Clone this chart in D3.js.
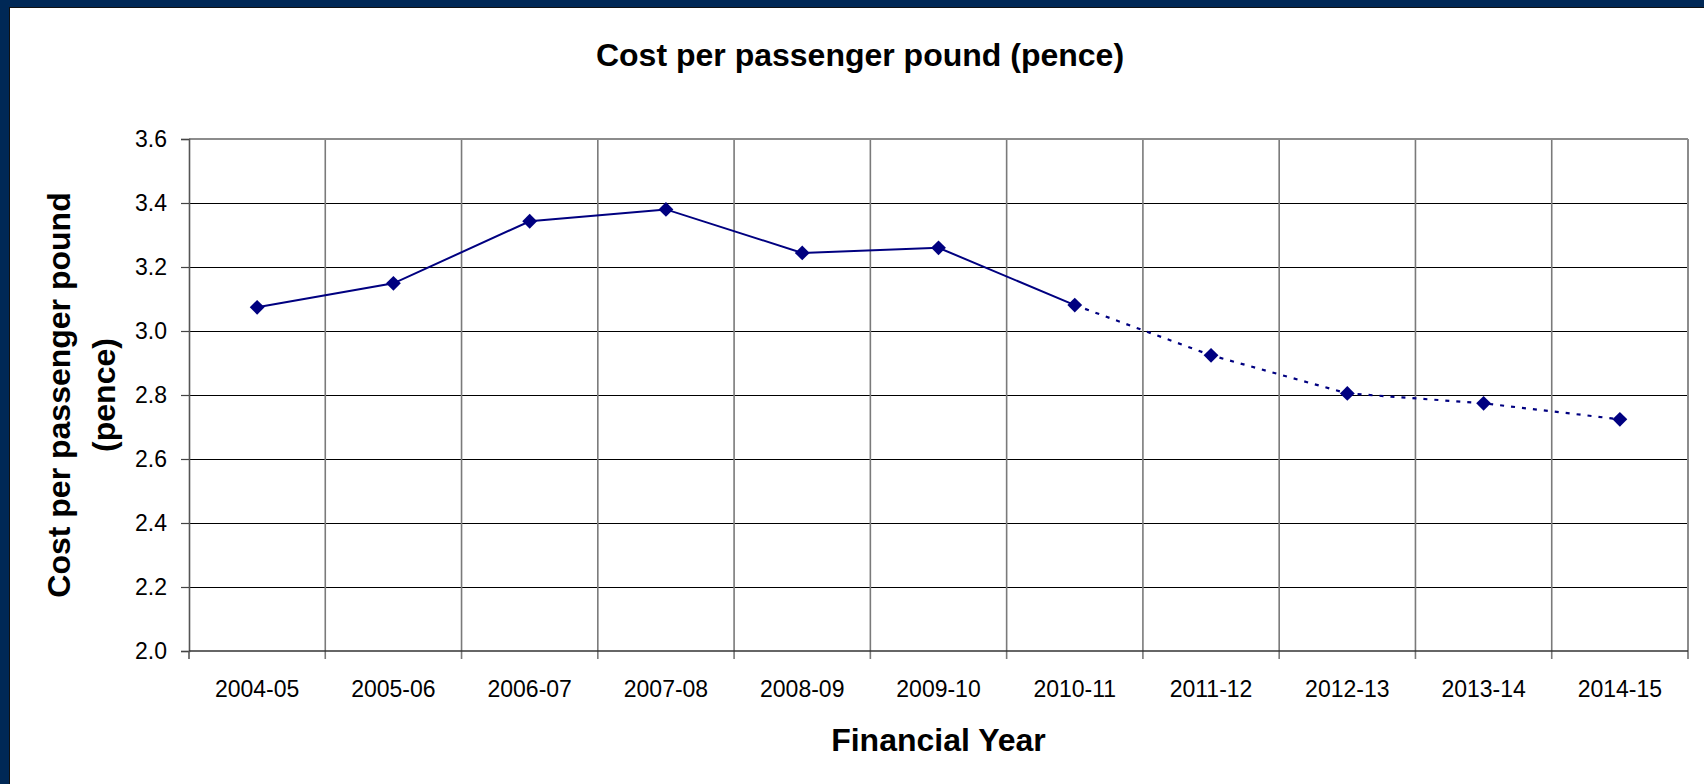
<!DOCTYPE html>
<html>
<head>
<meta charset="utf-8">
<script src="https://cdn.jsdelivr.net/npm/d3@7"></script>
<style>
  html, body { margin: 0; padding: 0; background: #fff; }
  svg { display: block; font-family: "Liberation Sans", Arial, sans-serif; }
</style>
</head>
<body>
<div id="chart"></div>
<script>
// ── Data ─────────────────────────────────────────────────────────────────
const years = [
  "2004-05", "2005-06", "2006-07", "2007-08", "2008-09", "2009-10",
  "2010-11", "2011-12", "2012-13", "2013-14", "2014-15",
];
const costPence = [3.074, 3.149, 3.343, 3.380, 3.244, 3.260, 3.081, 2.924, 2.805, 2.774, 2.724];
// index of last actual year; the rest is a projection (dotted)
const lastActual = 6;
const yTicks = [2.0, 2.2, 2.4, 2.6, 2.8, 3.0, 3.2, 3.4, 3.6];

// ── Dimensions ───────────────────────────────────────────────────────────
const W = 1704, H = 784;
const plot = { left: 189, right: 1688, top: 139, bottom: 651 };
const navy = "#000080";

const svg = d3.select("#chart")
  .append("svg")
  .attr("width", W)
  .attr("height", H);

// frame (dark band on top and left)
svg.append("rect").attr("width", W).attr("height", H).attr("fill", "#fff");
svg.append("rect").attr("x", 0).attr("y", 0).attr("width", W).attr("height", 7).attr("fill", "#002856");
svg.append("rect").attr("x", 0).attr("y", 0).attr("width", 9).attr("height", H).attr("fill", "#002856");
svg.append("line").attr("x1", 9).attr("x2", W).attr("y1", 7.5).attr("y2", 7.5).attr("stroke", "#111").attr("stroke-width", 1);
svg.append("line").attr("x1", 9.5).attr("x2", 9.5).attr("y1", 7).attr("y2", H).attr("stroke", "#111").attr("stroke-width", 1);

// ── Scales ───────────────────────────────────────────────────────────────
const x = d3.scaleBand().domain(years).range([plot.left, plot.right]).padding(0);
const y = d3.scaleLinear().domain([2.0, 3.6]).range([plot.bottom, plot.top]);
const cx = (d) => x(d) + x.bandwidth() / 2;

// ── Grid ─────────────────────────────────────────────────────────────────
svg.append("g")
  .selectAll("line")
  .data(yTicks.filter((t) => t > 2.0 && t < 3.6))
  .join("line")
  .attr("x1", plot.left).attr("x2", plot.right)
  .attr("y1", (d) => Math.round(y(d)) + 0.5).attr("y2", (d) => Math.round(y(d)) + 0.5)
  .attr("stroke", "#000").attr("stroke-width", 1);

svg.append("g")
  .selectAll("line")
  .data(years.slice(1))
  .join("line")
  .attr("x1", (d) => x(d)).attr("x2", (d) => x(d))
  .attr("y1", plot.top).attr("y2", plot.bottom + 8)
  .attr("stroke", "#7a7a7a").attr("stroke-width", 1.6);

// plot border
svg.append("line").attr("x1", plot.left).attr("x2", plot.right)
  .attr("y1", plot.top).attr("y2", plot.top).attr("stroke", "#8c8c8c").attr("stroke-width", 2);
svg.append("line").attr("x1", plot.right).attr("x2", plot.right)
  .attr("y1", plot.top).attr("y2", plot.bottom + 8).attr("stroke", "#8c8c8c").attr("stroke-width", 2);

// ── Axes ─────────────────────────────────────────────────────────────────
const yAxis = svg.append("g")
  .attr("transform", `translate(${plot.left},0)`)
  .call(d3.axisLeft(y).tickValues(yTicks).tickFormat(d3.format(".1f")).tickSize(8).tickPadding(14));
yAxis.select(".domain").attr("stroke", "#555").attr("stroke-width", 1.6);
yAxis.selectAll(".tick line").attr("stroke", "#444").attr("stroke-width", 1.2);
yAxis.selectAll("text").attr("font-size", 23).attr("fill", "#000")
  .attr("font-family", "Liberation Sans, Arial, sans-serif");

const xAxis = svg.append("g")
  .attr("transform", `translate(0,${plot.bottom})`)
  .call(d3.axisBottom(x).tickSize(0).tickPadding(30));
xAxis.select(".domain").remove();
xAxis.selectAll("text").attr("font-size", 23).attr("fill", "#000")
  .attr("font-family", "Liberation Sans, Arial, sans-serif");

svg.append("line").attr("x1", plot.left).attr("x2", plot.right)
  .attr("y1", plot.bottom).attr("y2", plot.bottom).attr("stroke", "#333").attr("stroke-width", 1.6);
svg.append("line").attr("x1", plot.left).attr("x2", plot.left)
  .attr("y1", plot.bottom).attr("y2", plot.bottom + 8).attr("stroke", "#555").attr("stroke-width", 1.6);

// ── Lines ────────────────────────────────────────────────────────────────
const rows = years.map((yr, i) => ({ yr, v: costPence[i], i }));
const lineGen = d3.line().x((d) => cx(d.yr)).y((d) => y(d.v));

svg.append("path")
  .datum(rows.filter((d) => d.i <= lastActual))
  .attr("fill", "none").attr("stroke", navy).attr("stroke-width", 2)
  .attr("d", lineGen);

svg.append("path")
  .datum(rows.filter((d) => d.i >= lastActual))
  .attr("fill", "none").attr("stroke", navy).attr("stroke-width", 2.2)
  .attr("stroke-dasharray", "4 7")
  .attr("d", lineGen);

// markers
svg.append("g")
  .selectAll("path")
  .data(rows)
  .join("path")
  .attr("transform", (d) => `translate(${cx(d.yr)},${y(d.v)})`)
  .attr("d", d3.symbol(d3.symbolDiamond2, 140))
  .attr("fill", navy);

// ── Titles ───────────────────────────────────────────────────────────────
svg.append("text")
  .attr("x", 860).attr("y", 66)
  .attr("text-anchor", "middle")
  .attr("font-size", 32).attr("font-weight", "bold")
  .text("Cost per passenger pound (pence)");

svg.append("text")
  .attr("x", (plot.left + plot.right) / 2).attr("y", 751)
  .attr("text-anchor", "middle")
  .attr("font-size", 32).attr("font-weight", "bold")
  .text("Financial Year");

const yTitle = svg.append("text")
  .attr("transform", `translate(0,${(plot.top + plot.bottom) / 2}) rotate(-90)`)
  .attr("text-anchor", "middle")
  .attr("font-size", 32).attr("font-weight", "bold");
yTitle.append("tspan").attr("x", 0).attr("y", 70).text("Cost per passenger pound");
yTitle.append("tspan").attr("x", 0).attr("y", 115).text("(pence)");
</script>
</body>
</html>
